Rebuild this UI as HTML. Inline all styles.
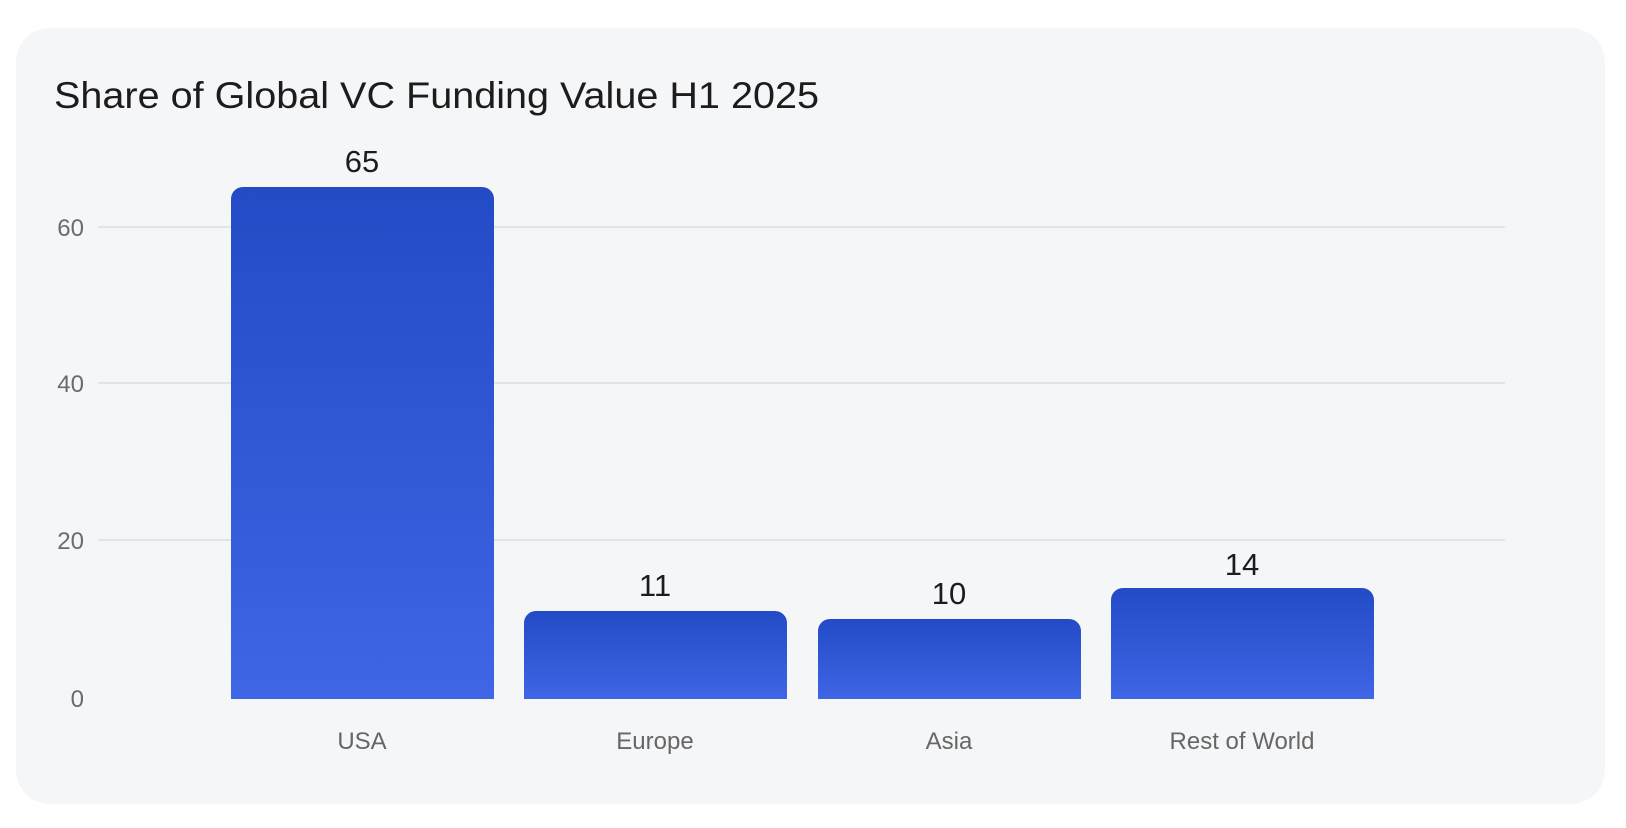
<!DOCTYPE html>
<html><head><style>
html,body{margin:0;padding:0;background:#fff;}
svg{display:block;font-family:"Liberation Sans",Arial,sans-serif;}
</style></head><body>
<svg width="1626" height="828" viewBox="0 0 1626 828" xmlns="http://www.w3.org/2000/svg">
<defs>
<linearGradient id="g" x1="0" y1="0" x2="0" y2="1">
<stop offset="0" stop-color="#234bc6"/><stop offset="1" stop-color="#3e66e5"/>
</linearGradient>
</defs>
<rect x="16" y="28" width="1589" height="776" rx="34" fill="#f5f6f8"/>
<text x="54" y="108" font-size="37" fill="#1c1c1c" textLength="765" lengthAdjust="spacingAndGlyphs">Share of Global VC Funding Value H1 2025</text>
<g stroke="#e3e4e8" stroke-width="2">
<line x1="98" y1="227" x2="1505" y2="227"/>
<line x1="98" y1="383" x2="1505" y2="383"/>
<line x1="98" y1="540" x2="1505" y2="540"/>
</g>
<g font-size="24" fill="#6b6b6b" text-anchor="end">
<text x="84" y="236">60</text>
<text x="84" y="392">40</text>
<text x="84" y="549">20</text>
<text x="84" y="707">0</text>
</g>
<g fill="url(#g)">
<path d="M231 699 V199 a12 12 0 0 1 12 -12 H482 a12 12 0 0 1 12 12 V699 Z"/>
<path d="M524 699 V623 a12 12 0 0 1 12 -12 H775 a12 12 0 0 1 12 12 V699 Z"/>
<path d="M818 699 V631 a12 12 0 0 1 12 -12 H1069 a12 12 0 0 1 12 12 V699 Z"/>
<path d="M1111 699 V600 a12 12 0 0 1 12 -12 H1362 a12 12 0 0 1 12 12 V699 Z"/>
</g>
<g font-size="31" fill="#1c1c1c" text-anchor="middle">
<text x="362" y="172">65</text>
<text x="655" y="596">11</text>
<text x="949" y="604">10</text>
<text x="1242" y="575">14</text>
</g>
<g font-size="24" fill="#666" text-anchor="middle">
<text x="362" y="749">USA</text>
<text x="655" y="749">Europe</text>
<text x="949" y="749">Asia</text>
<text x="1242" y="749">Rest of World</text>
</g>
</svg>
</body></html>
